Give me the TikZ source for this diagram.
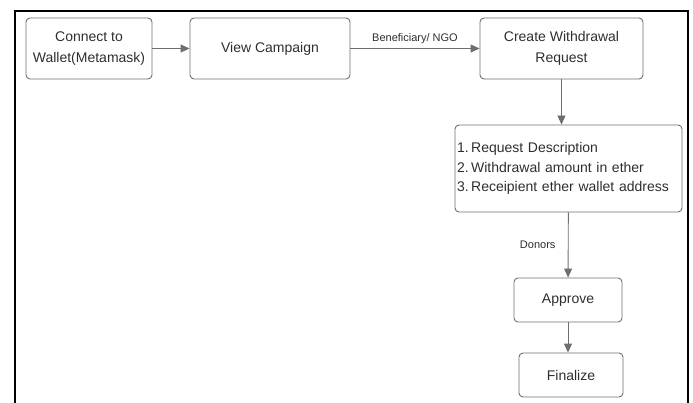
\documentclass[tikz,border=0pt]{standalone}
\usepackage{fontspec}
\setmainfont{Liberation Sans}
\usetikzlibrary{arrows.meta}

\definecolor{boxgray}{HTML}{6E6E6E}
\definecolor{txtgray}{HTML}{2E2E2E}

\tikzset{
  flowbox/.style={draw=boxgray, rounded corners=4pt, line width=0.9pt, text=txtgray,
    font=\fontsize{14}{21}\selectfont, align=center, inner sep=0pt},
  flowarrow/.style={-{Triangle[length=9pt,width=8pt]}, draw=boxgray, line width=0.9pt},
  edgelabel/.style={text=txtgray, font=\fontsize{11}{13}\selectfont}
}

\begin{document}
\begin{tikzpicture}[x=1pt,y=-1pt]
\useasboundingbox (0,0) rectangle (693,403);
% frame
\draw[line width=2.5pt] (15,403) -- (15,11) -- (688,11) -- (688,403);

% boxes
\node[flowbox, minimum width=126pt, minimum height=61pt] (wallet) at (89,48.5) {Connect to\\Wallet(Metamask)};
\node[flowbox, minimum width=160pt, minimum height=61pt] (campaign) at (270,48.5) {View Campaign};
\node[flowbox, minimum width=163pt, minimum height=61pt] (request) at (561.5,48.5) {Create Withdrawal\\Request};
\node[flowbox, minimum height=87pt, text width=223pt, inner xsep=2pt, align=left,
  font=\fontsize{14}{19.5}\selectfont] (details) at (568.5,168.5)
  {1.\hspace{2.5pt}Request Description\\2.\hspace{2.5pt}Withdrawal amount in ether\\3.\hspace{2.5pt}Receipient ether wallet address};
\node[flowbox, minimum width=108pt, minimum height=44pt] (approve) at (568,300) {Approve};
\node[flowbox, minimum width=104pt, minimum height=44pt] (finalize) at (571,375) {Finalize};

% arrows
\draw[flowarrow] (wallet) -- (campaign);
\draw[flowarrow] (campaign) -- node[edgelabel, above=1pt] {Beneficiary/ NGO} (request);
\draw[flowarrow] (request.south) -- (request.south |- details.north);
\draw[flowarrow] (details) -- node[edgelabel, left=9pt] {Donors} (approve);
\draw[flowarrow] (approve.south) -- (approve.south |- finalize.north);
\end{tikzpicture}
\end{document}
